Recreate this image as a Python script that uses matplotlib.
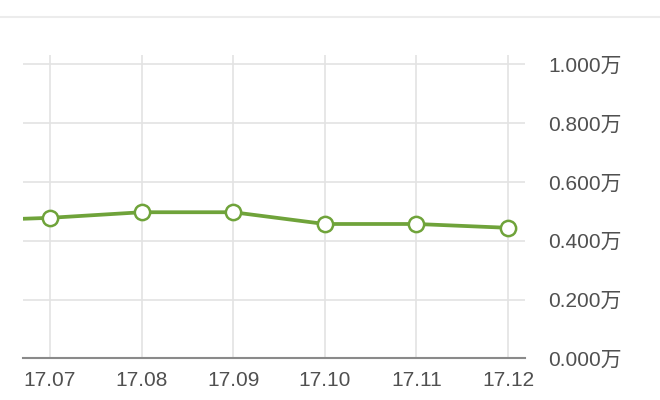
import matplotlib
matplotlib.use("Agg")
import matplotlib.pyplot as plt
from matplotlib.lines import Line2D

plt.rcParams['font.family'] = ['Liberation Sans', 'Noto Sans CJK SC']

# data
months = ["17.06", "17.07", "17.08", "17.09", "17.10", "17.11", "17.12"]
values = [0.467, 0.478, 0.497, 0.497, 0.457, 0.457, 0.444]
yticks = [0.0, 0.2, 0.4, 0.6, 0.8, 1.0]
ytick_labels = ["0.000万", "0.200万", "0.400万", "0.600万", "0.800万", "1.000万"]

W, H = 660, 400
fig = plt.figure(figsize=(6.6, 4.0), dpi=100)
fig.patch.set_facecolor("white")

left, right = 23, 525
top, bottom = 55, 358.3
ax = fig.add_axes([left / W, 1 - bottom / H, (right - left) / W, (bottom - top) / H])

xs = list(range(-1, len(months) - 1))
ax.plot(xs, values, color="#6fa33a", lw=2.7, marker="o", ms=11,
        mfc="white", mec="#6fa33a", mew=1.8, zorder=5, clip_on=True)

ax.set_xlim(-0.295, 5.186)
ax.set_ylim(0, 1.032)

ax.set_xticks(xs[1:])
ax.set_xticklabels(months[1:])
ax.set_yticks(yticks)
ax.set_yticklabels(ytick_labels)
ax.yaxis.tick_right()

for s in ["top", "left", "right"]:
    ax.spines[s].set_visible(False)
ax.spines["bottom"].set_color("#8a8a8a")
ax.spines["bottom"].set_linewidth(1.5)

ax.grid(True, color="#e3e3e3", lw=1.2)
ax.set_axisbelow(True)
ax.tick_params(axis="both", length=0, labelsize=15, labelcolor="#505050")
ax.tick_params(axis="x", pad=9)
ax.tick_params(axis="y", pad=16.5)
for lbl in ax.get_yticklabels():
    lbl.set_horizontalalignment("left")

fig.add_artist(Line2D([0, 1], [1 - 17 / H, 1 - 17 / H], color="#ececec", lw=1.5))

fig.savefig("out.png", dpi=100, facecolor="white")
